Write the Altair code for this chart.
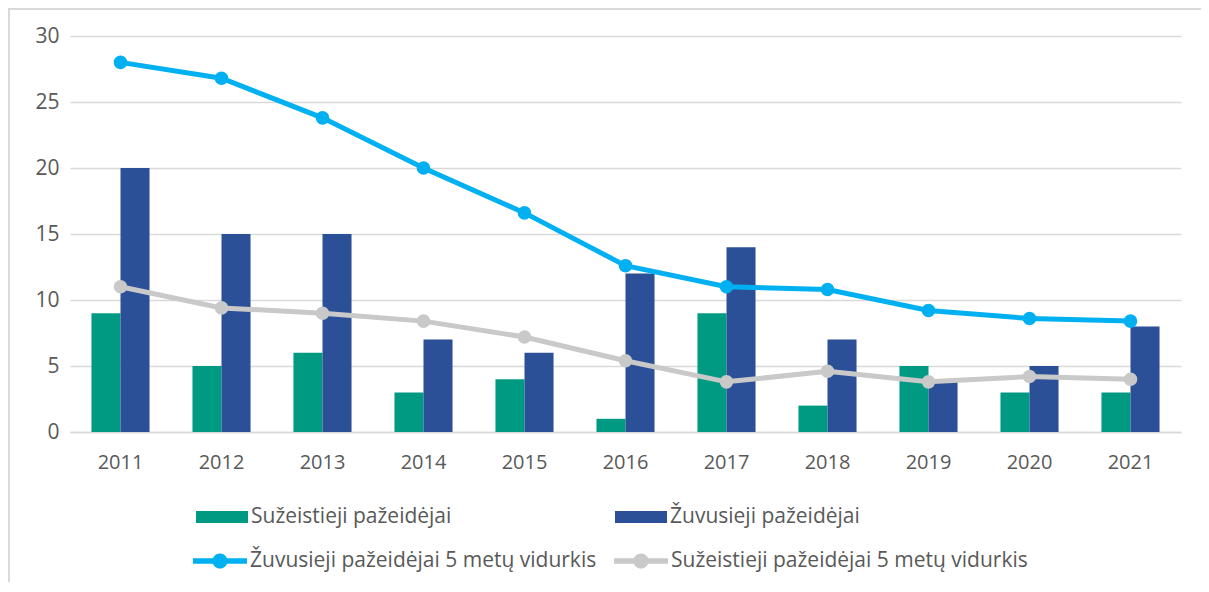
import altair as alt
import pandas as pd

years = [str(y) for y in range(2011, 2022)]
injured = [9, 5, 6, 3, 4, 1, 9, 2, 5, 3, 3]
killed = [20, 15, 15, 7, 6, 12, 14, 7, 4, 5, 8]
killed_avg = [28, 26.8, 23.8, 20, 16.6, 12.6, 11, 10.8, 9.2, 8.6, 8.4]
injured_avg = [11, 9.4, 9.0, 8.4, 7.2, 5.4, 3.8, 4.6, 3.8, 4.2, 4.0]

S_INJ = "Sužeistieji pažeidėjai"
S_KIL = "Žuvusieji pažeidėjai"
S_KAVG = "Žuvusieji pažeidėjai 5 metų vidurkis"
S_IAVG = "Sužeistieji pažeidėjai 5 metų vidurkis"

bar_series = [S_INJ, S_KIL]
bar_colors = ["#009A82", "#2B5097"]
line_series = [S_KAVG, S_IAVG]
line_colors = ["#00B0F0", "#C9C9C9"]

bars_df = pd.DataFrame({
    "year": years * 2,
    "series": [S_INJ] * len(years) + [S_KIL] * len(years),
    "value": injured + killed,
})
lines_df = pd.DataFrame({
    "year": years * 2,
    "series": [S_KAVG] * len(years) + [S_IAVG] * len(years),
    "value": killed_avg + injured_avg,
})

FONT = "Open Sans"
TXT = "#595959"
GRID = "#D9D9D9"
W, H = 1111, 396

xenc = alt.X(
    "year:N", sort=years, title=None,
    scale=alt.Scale(paddingInner=0.425, paddingOuter=0.2125),
    axis=alt.Axis(labelAngle=0, ticks=False, domainColor=GRID, domainWidth=1.5,
                  labelFont=FONT, labelFontSize=20, labelColor=TXT, labelPadding=20),
)
yenc = alt.Y(
    "value:Q", title=None,
    scale=alt.Scale(domain=[0, 30], nice=False),
    axis=alt.Axis(values=[0, 5, 10, 15, 20, 25, 30], domain=False, ticks=False,
                  gridColor=GRID, gridWidth=1.5, labelFont=FONT, labelFontSize=21,
                  labelColor=TXT, labelPadding=11),
)

bars = alt.Chart(bars_df).mark_bar().encode(
    x=xenc,
    y=yenc,
    xOffset=alt.XOffset("series:N", sort=bar_series,
                        scale=alt.Scale(paddingInner=0, paddingOuter=0)),
    color=alt.Color(
        "series:N",
        scale=alt.Scale(domain=bar_series, range=bar_colors),
        legend=alt.Legend(
            orient="none", legendX=126, legendY=455, direction="horizontal",
            title=None, symbolType="M-1,-0.23H1V0.23H-1Z", symbolSize=2704,
            symbolStrokeWidth=0, labelFont=FONT, labelFontSize=21, labelLimit=0,
            labelColor=TXT, labelOffset=3, columnPadding=163,
        ),
    ),
)

line_layers = []
for name, col in zip(line_series, line_colors):
    line_layers.append(
        alt.Chart(lines_df).transform_filter(alt.datum.series == name)
        .mark_line(strokeWidth=5, color=col)
        .encode(x=alt.X("year:N", sort=years), y=alt.Y("value:Q"))
    )

points = alt.Chart(lines_df).mark_circle(size=185, opacity=1).encode(
    x=alt.X("year:N", sort=years),
    y=alt.Y("value:Q"),
    fill=alt.Fill(
        "series:N",
        scale=alt.Scale(domain=line_series, range=line_colors),
        legend=alt.Legend(
            orient="none", legendX=123, legendY=498, direction="horizontal",
            title=None,
            symbolType="M-1,-0.1H1V0.1H-1Z M0.28,0A0.28,0.28 0 1,1 -0.28,0A0.28,0.28 0 1,1 0.28,0Z",
            symbolSize=2916, symbolStrokeWidth=0, labelFont=FONT, labelLimit=0,
            labelFontSize=21, labelColor=TXT, labelOffset=3, columnPadding=17,
        ),
    ),
)

frame = alt.Chart(pd.DataFrame({"a": [0]})).mark_rect(
    fillOpacity=0, stroke=GRID, strokeWidth=2
).encode(
    x=alt.value(-61), x2=alt.value(W + 60), y=alt.value(-27), y2=alt.value(H + 200)
)

chart = alt.layer(frame, bars, *line_layers, points).resolve_scale(
    color="independent", fill="independent"
).properties(
    width=W, height=H,
    autosize=alt.AutoSizeParams(type="none"),
    padding={"left": 62, "top": 28, "right": 20, "bottom": 150},
    background="white",
).configure_view(stroke=None)

chart.save("out.html", embed_options={"renderer": "svg", "actions": False})
